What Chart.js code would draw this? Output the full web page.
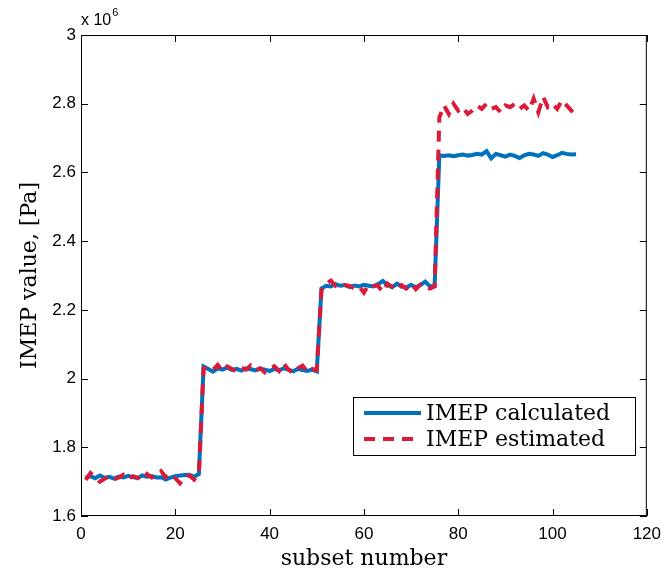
<!DOCTYPE html>
<html>
<head>
<meta charset="utf-8">
<script src="https://cdn.jsdelivr.net/npm/chart.js@4.4.1/dist/chart.umd.min.js"></script>
<style>
  html, body { margin: 0; padding: 0; background: #fff; }
  #wrap { width: 669px; height: 572px; }
</style>
</head>
<body>
<div id="wrap"><canvas id="imepChart" width="669" height="572"></canvas></div>
<script>
// subset numbers 1..105
const subsets = [];
for (let i = 1; i <= 105; i++) subsets.push(i);

// IMEP values, units of 1e6 Pa
const imepCalculated = [
    1.712, 1.716, 1.710, 1.718, 1.711, 1.714, 1.709, 1.715, 1.712, 1.717,
    1.713, 1.710, 1.718, 1.714, 1.716, 1.712, 1.713, 1.706, 1.712, 1.716,
    1.718, 1.719, 1.720, 1.714, 1.722,
    2.035, 2.028, 2.020, 2.030, 2.026, 2.032, 2.025, 2.028, 2.023, 2.030,
    2.027, 2.024, 2.029, 2.026, 2.022, 2.028, 2.024, 2.030, 2.026, 2.021,
    2.028, 2.025, 2.022, 2.026, 2.021,
    2.262, 2.270, 2.268, 2.275, 2.270, 2.272, 2.266, 2.271, 2.268, 2.273,
    2.270, 2.268, 2.275, 2.284, 2.272, 2.266, 2.276, 2.268, 2.265, 2.273,
    2.266, 2.272, 2.282, 2.268, 2.270,
    2.650, 2.648, 2.650, 2.647, 2.650, 2.652, 2.649, 2.651, 2.654, 2.652,
    2.662, 2.641, 2.654, 2.650, 2.646, 2.652, 2.648, 2.642, 2.650, 2.654,
    2.652, 2.648, 2.656, 2.652, 2.645, 2.650, 2.657, 2.654, 2.652, 2.653
];

const imepEstimated = [
    1.705, 1.725, 1.713, 1.700, 1.708, 1.716, 1.706, 1.712, 1.720, 1.707,
    1.716, 1.712, 1.704, 1.722, 1.712, 1.716, 1.730, 1.713, 1.722, 1.710,
    1.695, 1.714, 1.718, 1.706, 1.722,
    2.030, 2.033, 2.025, 2.040, 2.022, 2.035, 2.028, 2.020, 2.032, 2.026,
    2.038, 2.024, 2.030, 2.018, 2.028, 2.036, 2.022, 2.044, 2.026, 2.016,
    2.030, 2.038, 2.020, 2.028, 2.025,
    2.258, 2.275, 2.285, 2.270, 2.276, 2.272, 2.270, 2.262, 2.268, 2.250,
    2.274, 2.270, 2.270, 2.252, 2.276, 2.266, 2.258, 2.272, 2.262, 2.276,
    2.260, 2.274, 2.266, 2.262, 2.268,
    2.760, 2.795, 2.770, 2.800, 2.780, 2.790, 2.770, 2.780, 2.795, 2.785,
    2.800, 2.785, 2.790, 2.775, 2.795, 2.790, 2.800, 2.785, 2.795, 2.780,
    2.815, 2.775, 2.820, 2.790, 2.800, 2.785, 2.810, 2.795, 2.780, 2.765
];

const seriesLabels = ['IMEP calculated', 'IMEP estimated'];
const xTicks = [0, 20, 40, 60, 80, 100, 120];
const yTicks = [1.6, 1.8, 2.0, 2.2, 2.4, 2.6, 2.8, 3.0];

const BLUE = 'rgb(0,114,189)';
const RED = 'rgb(220,25,55)';
const SERIF = '"DejaVu Serif", "Liberation Serif", serif';
const SANS = '"Liberation Sans", Arial, sans-serif';

// box, inward ticks, exponent, legend
const matlabFrame = {
    id: 'matlabFrame',
    afterDraw(chart) {
        const ctx = chart.ctx;
        const a = chart.chartArea;
        const xs = chart.scales.x, ys = chart.scales.y;
        ctx.save();
        ctx.strokeStyle = '#000';
        ctx.lineWidth = 1;
        ctx.strokeRect(a.left + 0.5, a.top + 0.5, a.right - a.left - 1, a.bottom - a.top - 1);
        const len = 7;
        ctx.beginPath();
        xTicks.forEach(v => {
            const px = Math.round(xs.getPixelForValue(v)) + 0.5;
            ctx.moveTo(px, a.bottom); ctx.lineTo(px, a.bottom - len);
            ctx.moveTo(px, a.top); ctx.lineTo(px, a.top + len);
        });
        yTicks.forEach(v => {
            const py = Math.round(ys.getPixelForValue(v)) + 0.5;
            ctx.moveTo(a.left, py); ctx.lineTo(a.left + len, py);
            ctx.moveTo(a.right, py); ctx.lineTo(a.right - len, py);
        });
        ctx.stroke();

        // x 10^6
        ctx.fillStyle = '#000';
        ctx.textBaseline = 'alphabetic';
        ctx.textAlign = 'left';
        ctx.font = '16px ' + SANS;
        ctx.fillText('x 10', a.left, a.top - 10);
        const w = ctx.measureText('x 10').width;
        ctx.font = '11px ' + SANS;
        ctx.fillText('6', a.left + w + 1, a.top - 19);

        // legend
        const lx = 353, ly = 397, lw = 282, lh = 58;
        ctx.fillStyle = '#fff';
        ctx.fillRect(lx, ly, lw, lh);
        ctx.strokeStyle = '#000';
        ctx.lineWidth = 1;
        ctx.strokeRect(lx + 0.5, ly + 0.5, lw, lh);
        const rows = [
            { label: chart.data.datasets[0].label, color: BLUE, dash: [], y: 413 },
            { label: chart.data.datasets[1].label, color: RED, dash: [11, 8], y: 439 }
        ];
        ctx.font = '22px ' + SERIF;
        rows.forEach(r => {
            ctx.strokeStyle = r.color;
            ctx.lineWidth = 4;
            ctx.setLineDash(r.dash);
            ctx.beginPath();
            ctx.moveTo(364, r.y); ctx.lineTo(421, r.y);
            ctx.stroke();
            ctx.setLineDash([]);
            ctx.fillStyle = '#000';
            ctx.textBaseline = 'middle';
            ctx.fillText(r.label, 426, r.y + 1);
        });
        ctx.restore();
    }
};

const ctx = document.getElementById('imepChart').getContext('2d');
new Chart(ctx, {
    type: 'line',
    data: {
        labels: subsets,
        datasets: [{
            label: seriesLabels[0],
            data: imepCalculated,
            borderColor: BLUE,
            borderWidth: 4,
            fill: false,
            tension: 0,
            pointRadius: 0,
            order: 2
        }, {
            label: seriesLabels[1],
            data: imepEstimated,
            borderColor: RED,
            borderWidth: 4,
            borderDash: [11, 8],
            fill: false,
            tension: 0,
            pointRadius: 0,
            order: 1
        }]
    },
    options: {
        responsive: false,
        animation: false,
        layout: { padding: { top: 35, right: 14, left: 0, bottom: 0 } },
        scales: {
            x: {
                type: 'linear',
                min: 0,
                max: 120,
                afterFit: s => { s.height = 56; },
                afterBuildTicks: s => { s.ticks = xTicks.map(v => ({ value: v })); },
                grid: { display: false, drawTicks: false },
                border: { display: false },
                ticks: { color: '#000', font: { family: SANS, size: 17 }, padding: 8, maxRotation: 0 },
                title: { display: true, text: 'subset number', color: '#000', font: { family: SERIF, size: 22 }, padding: { top: 0, bottom: 0 } }
            },
            y: {
                min: 1.6,
                max: 3,
                afterFit: s => { s.width = 81; },
                afterBuildTicks: s => { s.ticks = yTicks.map(v => ({ value: v })); },
                grid: { display: false, drawTicks: false },
                border: { display: false },
                ticks: {
                    color: '#000',
                    font: { family: SANS, size: 17 },
                    padding: 5,
                    callback: v => String(Number(v.toFixed(1)))
                },
                title: { display: true, text: 'IMEP value, [Pa]', color: '#000', font: { family: SERIF, size: 22 }, padding: { top: 17, bottom: 0 } }
            }
        },
        plugins: {
            legend: { display: false },
            tooltip: { enabled: false }
        }
    },
    plugins: [matlabFrame]
});
</script>
</body>
</html>
